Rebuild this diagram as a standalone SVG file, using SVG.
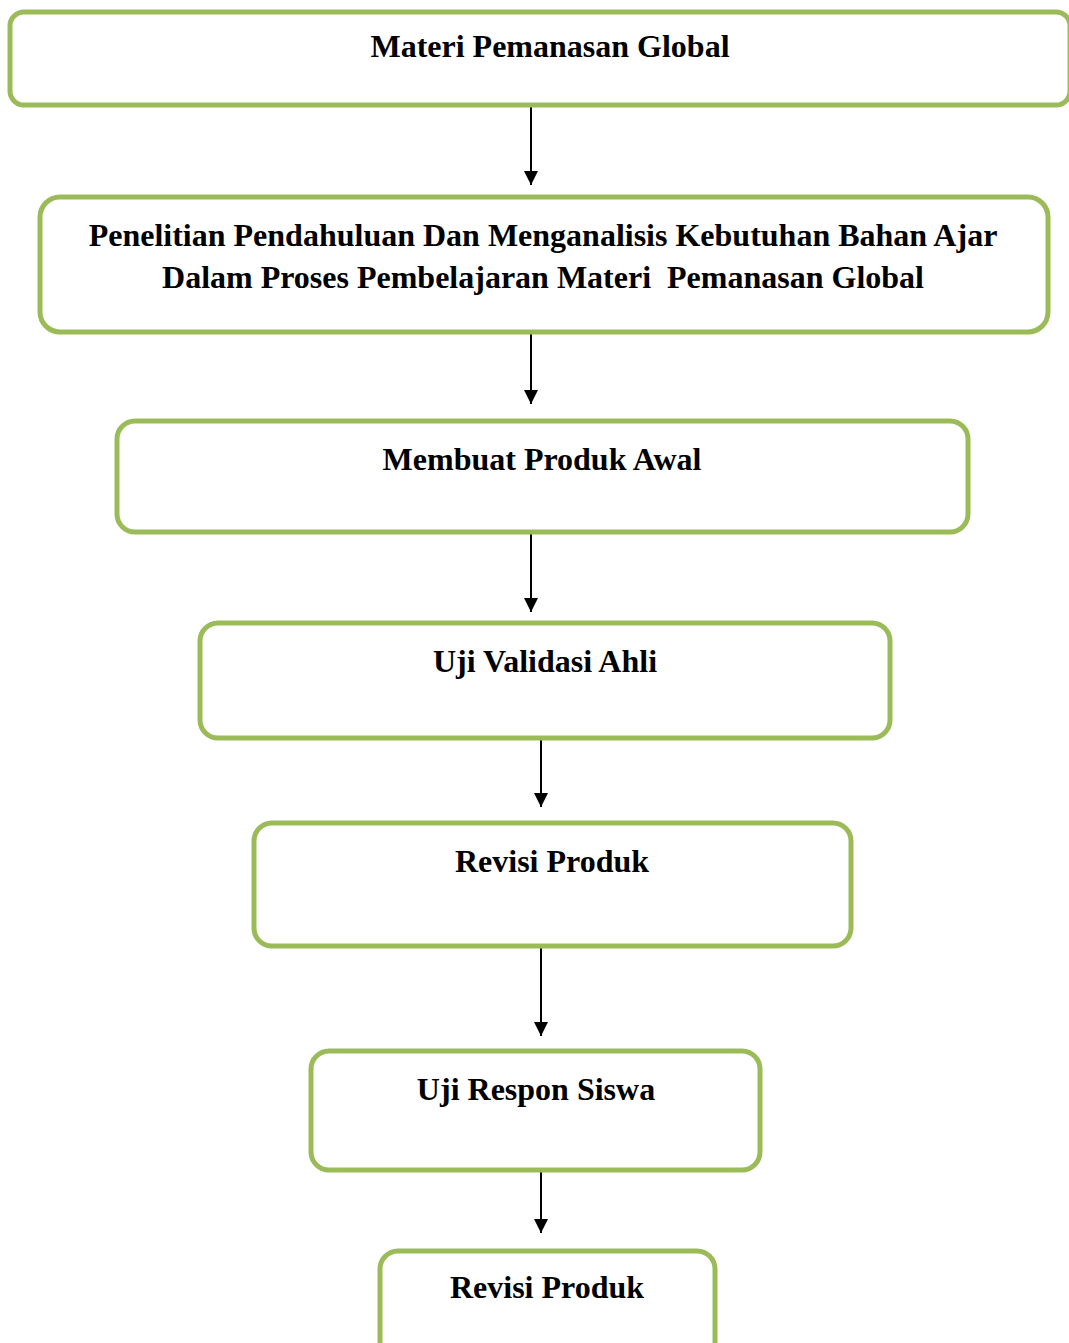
<svg xmlns="http://www.w3.org/2000/svg" width="1069" height="1343" viewBox="0 0 1069 1343">
<defs>
<marker id="ah" markerWidth="14" markerHeight="16" refX="14" refY="7" orient="auto" markerUnits="userSpaceOnUse" viewBox="0 0 14 14">
<path d="M0,0 L14,7 L0,14 z" fill="#000"/>
</marker>
<style>
.box{fill:#fff;stroke:#9BBB59;stroke-width:5}
.t{font-family:"Liberation Serif","Times New Roman",serif;font-weight:bold;font-size:32px;fill:#000;text-anchor:middle}
.c{stroke:#000;stroke-width:2;fill:none}
</style>
</defs>
<rect width="1069" height="1343" fill="#fff"/>
<g id="connectors">
<line class="c" x1="531" y1="106" x2="531" y2="185" marker-end="url(#ah)"/>
<line class="c" x1="531" y1="333" x2="531" y2="404" marker-end="url(#ah)"/>
<line class="c" x1="531" y1="533" x2="531" y2="612" marker-end="url(#ah)"/>
<line class="c" x1="541" y1="739" x2="541" y2="807" marker-end="url(#ah)"/>
<line class="c" x1="541" y1="947" x2="541" y2="1036" marker-end="url(#ah)"/>
<line class="c" x1="541" y1="1171" x2="541" y2="1233" marker-end="url(#ah)"/>
</g>
<g id="n1">
<rect class="box" x="10" y="12" width="1060" height="93" rx="14"/>
<text class="t" x="550" y="57">Materi Pemanasan Global</text>
</g>
<g id="n2">
<rect class="box" x="40" y="197" width="1008" height="135" rx="20"/>
<text class="t" x="543" y="246">Penelitian Pendahuluan Dan Menganalisis Kebutuhan Bahan Ajar</text>
<text class="t" x="543" y="288" xml:space="preserve">Dalam Proses Pembelajaran Materi  Pemanasan Global</text>
</g>
<g id="n3">
<rect class="box" x="117" y="421" width="851" height="111" rx="18"/>
<text class="t" x="542" y="470">Membuat Produk Awal</text>
</g>
<g id="n4">
<rect class="box" x="200" y="623" width="690" height="115" rx="18"/>
<text class="t" x="545" y="672">Uji Validasi Ahli</text>
</g>
<g id="n5">
<rect class="box" x="254" y="823" width="597" height="123" rx="18"/>
<text class="t" x="552" y="872">Revisi Produk</text>
</g>
<g id="n6">
<rect class="box" x="311" y="1051" width="449" height="119" rx="18"/>
<text class="t" x="536" y="1100">Uji Respon Siswa</text>
</g>
<g id="n7">
<rect class="box" x="380" y="1251" width="335" height="120" rx="18"/>
<text class="t" x="547" y="1298">Revisi Produk</text>
</g>
</svg>
